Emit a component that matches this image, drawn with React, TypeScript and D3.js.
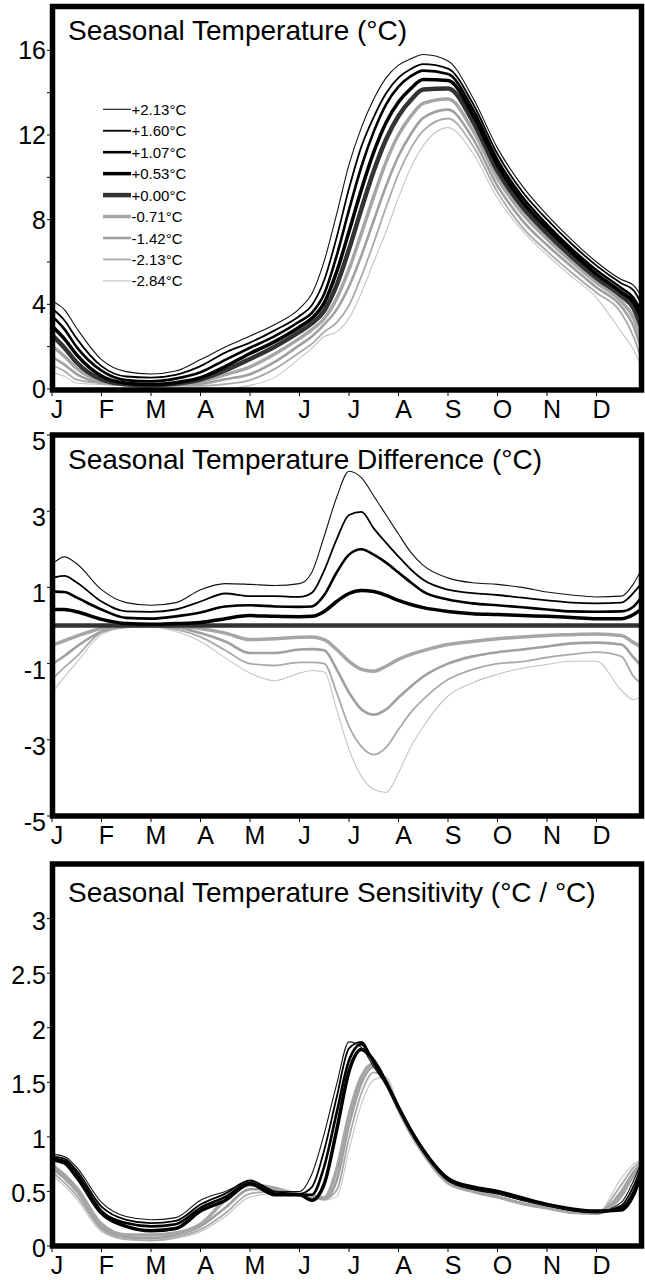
import React from "react";
import * as d3 from "d3";

// month positions (0 = 1 Jan, 12 = end of Dec) shared by every series
const xs = [0, 0.25, 0.5, 1, 1.5, 2, 2.5, 3, 3.5, 4, 4.5, 5, 5.25, 5.5, 5.75, 6, 6.25, 6.5, 6.75, 7, 7.25, 7.5, 8, 8.5, 9, 9.5, 10, 10.5, 11, 11.5, 11.75, 11.9];
const months = ["J", "F", "M", "A", "M", "J", "J", "A", "S", "O", "N", "D"];
const seriesLabels = ["+2.13°C", "+1.60°C", "+1.07°C", "+0.53°C", "+0.00°C", "-0.71°C", "-1.42°C", "-2.13°C", "-2.84°C"];

// seasonal temperature (°C)
const tempP213 = [4.15, 3.75, 2.87, 1.39, 0.82, 0.71, 0.85, 1.39, 1.98, 2.5, 3.05, 3.8, 4.5, 6.05, 8.26, 10.6, 12.35, 13.7, 14.7, 15.3, 15.6, 15.8, 15.5, 13.77, 11.38, 9.6, 8.23, 7.05, 6.0, 5.17, 4.9, 4.4];
const tempP160 = [3.8, 3.25, 2.38, 1.08, 0.59, 0.54, 0.67, 1.08, 1.72, 2.19, 2.77, 3.45, 3.96, 5.15, 7.16, 9.47, 11.45, 12.85, 13.97, 14.71, 15.12, 15.35, 15.14, 13.5, 11.1, 9.33, 8.01, 6.85, 5.83, 5.0, 4.66, 4.05];
const tempP107 = [3.44, 2.83, 1.98, 0.87, 0.42, 0.36, 0.49, 0.79, 1.38, 1.95, 2.5, 3.19, 3.6, 4.5, 6.29, 8.46, 10.5, 12.16, 13.45, 14.29, 14.78, 15.04, 14.88, 13.23, 10.83, 9.08, 7.77, 6.62, 5.61, 4.77, 4.3, 3.68];
const tempP053 = [2.97, 2.37, 1.61, 0.61, 0.27, 0.21, 0.3, 0.53, 1.06, 1.68, 2.24, 2.93, 3.34, 4.07, 5.53, 7.44, 9.42, 11.19, 12.59, 13.56, 14.2, 14.62, 14.57, 12.96, 10.59, 8.86, 7.59, 6.46, 5.43, 4.58, 4.09, 3.37];
const tempZero = [2.55, 1.95, 1.25, 0.45, 0.22, 0.18, 0.25, 0.45, 0.88, 1.42, 2.0, 2.7, 3.1, 3.7, 4.9, 6.6, 8.5, 10.3, 11.8, 12.9, 13.65, 14.15, 14.2, 12.65, 10.3, 8.6, 7.35, 6.25, 5.25, 4.4, 3.8, 2.95];
const tempM071 = [2.03, 1.55, 0.97, 0.37, 0.2, 0.18, 0.23, 0.37, 0.68, 1.05, 1.65, 2.39, 2.8, 3.33, 4.27, 5.66, 7.35, 9.1, 10.73, 12.01, 12.89, 13.49, 13.7, 12.23, 9.95, 8.3, 7.09, 6.01, 5.03, 4.14, 3.35, 2.4];
const tempM142 = [1.53, 1.15, 0.7, 0.29, 0.19, 0.16, 0.2, 0.25, 0.46, 0.7, 1.28, 2.07, 2.48, 3.05, 3.75, 4.84, 6.3, 7.96, 9.6, 11.01, 12.05, 12.81, 13.2, 11.84, 9.6, 7.97, 6.8, 5.78, 4.8, 3.9, 2.96, 1.9];
const tempM213 = [1.13, 0.85, 0.44, 0.27, 0.17, 0.15, 0.15, 0.15, 0.23, 0.42, 0.95, 1.73, 2.13, 2.7, 3.14, 3.95, 5.32, 6.91, 8.6, 10.17, 11.37, 12.21, 12.78, 11.5, 9.3, 7.65, 6.51, 5.49, 4.55, 3.59, 2.46, 1.43];
const tempM284 = [0.79, 0.6, 0.28, 0.21, 0.17, 0.15, 0.09, 0.03, 0.03, 0.17, 0.55, 1.45, 1.92, 2.48, 2.7, 3.35, 4.54, 6.0, 7.44, 9.04, 10.47, 11.5, 12.35, 11.15, 9.02, 7.48, 6.33, 5.31, 4.31, 2.7, 1.85, 1.09];

// seasonal temperature difference (°C)
const diffP213 = [1.6, 1.8, 1.62, 0.94, 0.6, 0.53, 0.6, 0.94, 1.1, 1.08, 1.05, 1.1, 1.4, 2.35, 3.36, 4.05, 3.88, 3.4, 2.9, 2.4, 1.92, 1.58, 1.25, 1.12, 1.08, 1.0, 0.88, 0.8, 0.75, 0.77, 1.1, 1.45];
const diffP160 = [1.25, 1.3, 1.13, 0.63, 0.37, 0.36, 0.42, 0.63, 0.84, 0.77, 0.77, 0.75, 0.86, 1.45, 2.26, 2.9, 2.98, 2.55, 2.17, 1.81, 1.47, 1.2, 0.94, 0.85, 0.8, 0.73, 0.66, 0.6, 0.58, 0.6, 0.86, 1.1];
const diffP107 = [0.89, 0.88, 0.73, 0.42, 0.2, 0.18, 0.24, 0.34, 0.5, 0.53, 0.5, 0.49, 0.5, 0.8, 1.39, 1.86, 2.0, 1.86, 1.65, 1.39, 1.13, 0.89, 0.68, 0.58, 0.53, 0.48, 0.42, 0.37, 0.36, 0.37, 0.5, 0.73];
const diffP053 = [0.42, 0.42, 0.36, 0.16, 0.05, 0.03, 0.05, 0.08, 0.18, 0.26, 0.24, 0.23, 0.24, 0.37, 0.63, 0.84, 0.92, 0.89, 0.79, 0.66, 0.55, 0.47, 0.37, 0.31, 0.29, 0.26, 0.24, 0.21, 0.18, 0.18, 0.29, 0.42];
const diffZero = [0, 0, 0, 0, 0, 0, 0, 0, 0, 0, 0, 0, 0, 0, 0, 0, 0, 0, 0, 0, 0, 0, 0, 0, 0, 0, 0, 0, 0, 0, 0, 0];
const diffM071 = [-0.52, -0.4, -0.28, -0.08, -0.02, 0, -0.02, -0.08, -0.2, -0.37, -0.35, -0.31, -0.3, -0.37, -0.63, -0.94, -1.15, -1.2, -1.07, -0.89, -0.76, -0.66, -0.5, -0.42, -0.35, -0.3, -0.26, -0.24, -0.22, -0.26, -0.45, -0.55];
const diffM142 = [-1.02, -0.8, -0.55, -0.16, -0.03, -0.02, -0.05, -0.2, -0.42, -0.72, -0.72, -0.63, -0.62, -0.65, -1.15, -1.76, -2.2, -2.34, -2.2, -1.89, -1.6, -1.34, -1.0, -0.81, -0.7, -0.63, -0.55, -0.47, -0.45, -0.5, -0.84, -1.05];
const diffM213 = [-1.42, -1.1, -0.81, -0.18, -0.05, -0.03, -0.1, -0.3, -0.65, -1.0, -1.05, -0.97, -0.97, -1.0, -1.76, -2.65, -3.18, -3.39, -3.2, -2.73, -2.28, -1.94, -1.42, -1.15, -1.0, -0.95, -0.84, -0.76, -0.7, -0.81, -1.34, -1.52];
const diffM284 = [-1.76, -1.35, -0.97, -0.24, -0.05, -0.03, -0.16, -0.42, -0.85, -1.25, -1.45, -1.25, -1.18, -1.22, -2.2, -3.25, -3.96, -4.3, -4.38, -3.86, -3.18, -2.65, -1.85, -1.5, -1.28, -1.12, -1.02, -0.94, -0.94, -1.7, -1.95, -1.86];

// seasonal temperature sensitivity (°C / °C)
const sensP213 = [0.84, 0.82, 0.72, 0.4, 0.27, 0.24, 0.26, 0.42, 0.5, 0.58, 0.5, 0.5, 0.66, 1.03, 1.48, 1.87, 1.82, 1.64, 1.47, 1.25, 1.04, 0.86, 0.6, 0.52, 0.48, 0.42, 0.37, 0.33, 0.31, 0.4, 0.6, 0.76];
const sensP160 = [0.82, 0.8, 0.69, 0.36, 0.24, 0.21, 0.23, 0.38, 0.48, 0.6, 0.5, 0.48, 0.54, 0.88, 1.36, 1.81, 1.87, 1.67, 1.48, 1.26, 1.05, 0.87, 0.6, 0.52, 0.48, 0.42, 0.37, 0.33, 0.31, 0.37, 0.55, 0.72];
const sensP107 = [0.8, 0.78, 0.66, 0.32, 0.21, 0.18, 0.2, 0.35, 0.45, 0.58, 0.48, 0.47, 0.47, 0.73, 1.22, 1.7, 1.85, 1.68, 1.49, 1.27, 1.05, 0.87, 0.61, 0.53, 0.49, 0.43, 0.38, 0.33, 0.31, 0.35, 0.5, 0.68];
const sensP053 = [0.79, 0.76, 0.63, 0.3, 0.18, 0.14, 0.16, 0.32, 0.42, 0.57, 0.47, 0.47, 0.42, 0.57, 1.06, 1.6, 1.8, 1.7, 1.5, 1.27, 1.06, 0.88, 0.62, 0.54, 0.5, 0.44, 0.38, 0.34, 0.32, 0.33, 0.47, 0.65];
const sensM071 = [0.74, 0.65, 0.53, 0.2, 0.1, 0.1, 0.12, 0.2, 0.42, 0.56, 0.53, 0.47, 0.46, 0.44, 0.7, 1.2, 1.55, 1.67, 1.5, 1.25, 1.03, 0.85, 0.58, 0.5, 0.45, 0.39, 0.35, 0.31, 0.3, 0.46, 0.65, 0.73];
const sensM142 = [0.71, 0.62, 0.5, 0.17, 0.08, 0.07, 0.1, 0.18, 0.35, 0.52, 0.52, 0.46, 0.45, 0.43, 0.6, 1.11, 1.49, 1.64, 1.51, 1.25, 1.03, 0.85, 0.58, 0.5, 0.45, 0.39, 0.35, 0.31, 0.3, 0.5, 0.68, 0.75];
const sensM213 = [0.68, 0.58, 0.46, 0.15, 0.06, 0.05, 0.08, 0.15, 0.3, 0.48, 0.5, 0.46, 0.45, 0.43, 0.51, 0.99, 1.4, 1.59, 1.53, 1.26, 1.03, 0.85, 0.58, 0.5, 0.45, 0.39, 0.35, 0.31, 0.3, 0.56, 0.72, 0.77];
const sensM284 = [0.65, 0.55, 0.43, 0.13, 0.06, 0.05, 0.07, 0.13, 0.27, 0.45, 0.48, 0.46, 0.45, 0.42, 0.45, 0.88, 1.3, 1.52, 1.55, 1.28, 1.04, 0.85, 0.58, 0.5, 0.45, 0.39, 0.35, 0.31, 0.3, 0.62, 0.75, 0.78];

// line style per series, same order as seriesLabels
const lineStyles = [
  { color: "#111", width: 1.1 },
  { color: "#000", width: 1.8 },
  { color: "#000", width: 2.6 },
  { color: "#000", width: 3.5 },
  { color: "#333", width: 4.5 },
  { color: "#a6a6a6", width: 3.5 },
  { color: "#a0a0a0", width: 2.6 },
  { color: "#aaaaaa", width: 1.8 },
  { color: "#c4c4c4", width: 1.1 },
];

const FONT = "'Liberation Sans', Arial, Helvetica, sans-serif";
const x = d3.scaleLinear().domain([0, 12]).range([52, 646]);
const LEFT = 52.5;
const RIGHT = 641.5;
const BORDER = 5.5;

const panels = [
  {
    id: "temp",
    top: 6.5,
    bottom: 390,
    domain: [0, 18],
    range: [389, 8],
    labels: [0, 4, 8, 12, 16],
    minor: [2, 6, 10, 14],
    labelDy: 9,
    title: "Seasonal Temperature (°C)",
    titleY: 40,
    series: [tempP213, tempP160, tempP107, tempP053, tempZero, tempM071, tempM142, tempM213, tempM284],
    legend: true,
  },
  {
    id: "diff",
    top: 435,
    bottom: 816,
    domain: [-5, 5],
    range: [816, 435],
    labels: [5, 3, 1, -1, -3, -5],
    minor: [],
    labelDy: 15,
    title: "Seasonal Temperature Difference (°C)",
    titleY: 469,
    series: [diffP213, diffP160, diffP107, diffP053, diffZero, diffM071, diffM142, diffM213, diffM284],
    legend: false,
  },
  {
    id: "sens",
    top: 864,
    bottom: 1246,
    domain: [0, 3.5],
    range: [1246, 864],
    labels: [0, 0.5, 1, 1.5, 2, 2.5, 3],
    minor: [],
    labelDy: 11,
    title: "Seasonal Temperature Sensitivity (°C / °C)",
    titleY: 902,
    series: [sensP213, sensP160, sensP107, sensP053, null, sensM071, sensM142, sensM213, sensM284],
    legend: false,
  },
];

// greys first, then the zero line, then the black ones on top
const drawOrder = [8, 7, 6, 5, 4, 3, 2, 1, 0];

function Panel({ p }: { p: any }) {
  const y = d3.scaleLinear().domain(p.domain).range(p.range);
  const line = d3
    .line<number>()
    .x((_, i) => x(xs[i]))
    .y((d) => y(d))
    .curve(d3.curveMonotoneX);

  return (
    <g>
      <clipPath id={`clip-${p.id}`}>
        <rect x={LEFT + 2.5} y={p.top + 2.5} width={RIGHT - LEFT - 5} height={p.bottom - p.top - 4} />
      </clipPath>
      <g clipPath={`url(#clip-${p.id})`}>
        {drawOrder.map((k) =>
          p.series[k] ? (
            <path
              key={k}
              d={line(p.series[k]) || ""}
              fill="none"
              stroke={lineStyles[k].color}
              strokeWidth={lineStyles[k].width}
              strokeLinejoin="round"
            />
          ) : null
        )}
      </g>
      <rect
        x={LEFT}
        y={p.top}
        width={RIGHT - LEFT}
        height={p.bottom - p.top}
        fill="none"
        stroke="#000"
        strokeWidth={BORDER}
      />
      {/* y axis */}
      {p.labels.concat(p.minor).map((v: number) => (
        <line key={`t${v}`} x1={LEFT - 5.5} x2={LEFT - 2} y1={y(v)} y2={y(v)} stroke="#000" strokeWidth={1} />
      ))}
      {p.labels.map((v: number) => (
        <text key={`l${v}`} x={46} y={y(v) + p.labelDy} textAnchor="end" fontSize={25} fontFamily={FONT}>
          {v}
        </text>
      ))}
      {/* x axis */}
      {months.map((m, i) => (
        <g key={i}>
          <line x1={x(i)} x2={x(i)} y1={p.bottom + 2.5} y2={p.bottom + 6} stroke="#000" strokeWidth={1} />
          <text x={x(i) + 5} y={p.bottom + 28} textAnchor="middle" fontSize={25} fontFamily={FONT}>
            {m}
          </text>
        </g>
      ))}
      <text x={68} y={p.titleY} fontSize={28} fontFamily={FONT}>
        {p.title}
      </text>
      {p.legend &&
        seriesLabels.map((s, k) => (
          <g key={s} transform={`translate(0,${109.3 + k * 21.45})`}>
            <line x1={103} x2={131} y1={0} y2={0} stroke={lineStyles[k].color} strokeWidth={lineStyles[k].width} />
            <text x={131.5} y={5.5} fontSize={15} fontFamily={FONT}>
              {s}
            </text>
          </g>
        ))}
    </g>
  );
}

export default function App() {
  return (
    <div style={{ position: "absolute", left: 0, top: 0, width: 645, height: 1280, background: "#fff" }}>
      <svg width={645} height={1280} style={{ display: "block" }}>
        <rect width={645} height={1280} fill="#fff" />
        {panels.map((p) => (
          <Panel key={p.id} p={p} />
        ))}
      </svg>
    </div>
  );
}
